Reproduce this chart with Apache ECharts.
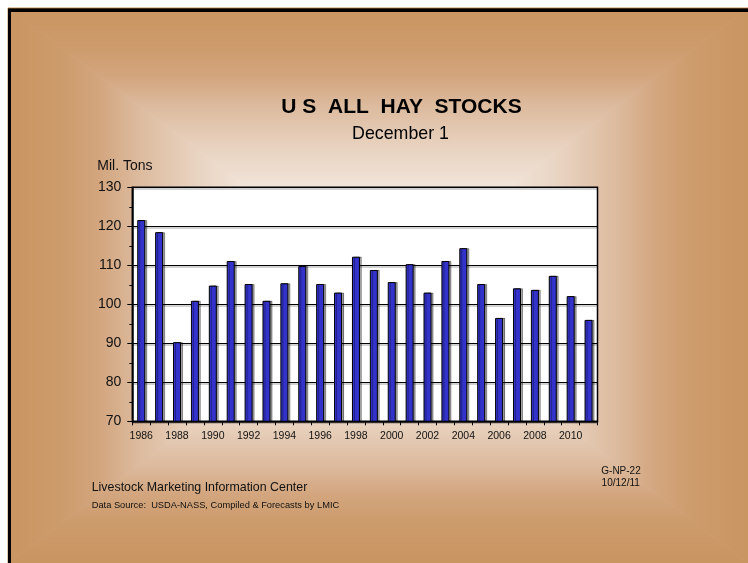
<!DOCTYPE html>
<html>
<head>
<meta charset="utf-8">
<title>U S All Hay Stocks</title>
<script src="https://cdn.jsdelivr.net/npm/echarts@6/dist/echarts.min.js"></script>
<style>
  html, body { margin: 0; padding: 0; background: #ffffff; }
  #chart { width: 748px; height: 563px; }
</style>
</head>
<body>
<div id="chart"></div>
<script>
// December 1 hay stocks, million tons
const years = ['1986', '1987', '1988', '1989', '1990', '1991', '1992', '1993', '1994',
  '1995', '1996', '1997', '1998', '1999', '2000', '2001', '2002', '2003', '2004',
  '2005', '2006', '2007', '2008', '2009', '2010', '2011'];
const stocks = [121.6, 118.5, 90.3, 100.9, 104.8, 111.1, 105.2, 100.9, 105.4,
  109.8, 105.2, 103.0, 112.2, 108.8, 105.7, 110.3, 103.0, 111.1, 114.4,
  105.2, 96.5, 104.1, 103.7, 107.3, 102.1, 96.0];

const titleText = 'U S  ALL  HAY  STOCKS';
const subtitleText = 'December 1';
const unitText = 'Mil. Tons';
const sourceLines = ['Livestock Marketing Information Center',
  'Data Source:  USDA-NASS, Compiled & Forecasts by LMIC'];
const chartCode = ['G-NP-22', '10/12/11'];

const FONT = '"Liberation Sans", Arial, Helvetica, sans-serif';

// Slide background: rectangular "from centre" gradient built from four triangles
const L = 8, T = 8, R = 748, B = 563;
const CX = 378, CY = 285;
// offsets are measured from the slide edge (0) to the centre (1)
const shade = [
  [0.00, '#c99561'],
  [0.15, '#cd9c6c'],
  [0.25, '#d3a67f'],
  [0.35, '#dcba9d'],
  [0.50, '#e8d2bf'],
  [0.70, '#f4ebe3'],
  [1.00, '#ffffff']
];
function grad(x, y, x2, y2) {
  return {
    type: 'linear', x: x, y: y, x2: x2, y2: y2, global: true,
    colorStops: shade.map(s => ({ offset: s[0], color: s[1] }))
  };
}
function tri(points, g) {
  return { type: 'polygon', z: -100, silent: true,
    shape: { points: points },
    style: { fill: g, stroke: g, lineWidth: 1 } };
}
const background = [
  tri([[L, T], [L, B], [CX, CY]], grad(L, 0, CX, 0)),
  tri([[R, T], [R, B], [CX, CY]], grad(R, 0, CX, 0)),
  tri([[L, T], [R, T], [CX, CY]], grad(0, T, 0, CY)),
  tri([[L, B], [R, B], [CX, CY]], grad(0, B, 0, CY)),
  // slide frame, left and top edges
  { type: 'rect', z: -90, silent: true, shape: { x: 8, y: 8, width: 740, height: 1 }, style: { fill: '#4a3218' } },
  { type: 'rect', z: -90, silent: true, shape: { x: 8, y: 9, width: 740, height: 3 }, style: { fill: '#000' } },
  { type: 'rect', z: -90, silent: true, shape: { x: 8, y: 9, width: 3, height: 554 }, style: { fill: '#000' } }
];

// place text by its baseline (top of the text box sits ~0.82em above it)
function label(text, x, baseline, font, size, align, color) {
  return {
    type: 'text', z: 50, silent: true, x: x, y: baseline - 0.82 * size,
    style: { text: text, fill: color || '#111', font: font + ' ' + size + 'px ' + FONT,
      align: align || 'left', verticalAlign: 'top' }
  };
}
const texts = [
  label(titleText, 401.5, 114.3, 'bold', 21, 'center', '#000'),
  label(subtitleText, 400.5, 139.3, 'normal', 17.8, 'center', '#000'),
  label(unitText, 97.3, 170.7, 'normal', 14),
  label(sourceLines[0], 91.7, 491.7, 'normal', 12.4),
  label(sourceLines[1], 91.7, 509, 'normal', 9.3),
  label(chartCode[0], 621, 474, 'normal', 10, 'center'),
  label(chartCode[1], 620.7, 486.7, 'normal', 10, 'center')
];

const chart = echarts.init(document.getElementById('chart'), null, { renderer: 'canvas' });
chart.setOption({
  animation: false,
  backgroundColor: 'transparent',
  textStyle: { fontFamily: FONT },
  graphic: { elements: background.concat(texts) },
  grid: {
    left: 132.3, top: 187.3, width: 465.2, height: 234,
    show: true, backgroundColor: '#ffffff', borderColor: '#000', borderWidth: 1.5
  },
  xAxis: {
    type: 'category',
    data: years,
    boundaryGap: true,
    axisLine: { show: true, lineStyle: { color: '#000', width: 1.5 } },
    axisTick: { show: true, interval: 0, alignWithLabel: false, length: 4, lineStyle: { color: '#000', width: 1 } },
    axisLabel: { interval: 1, color: '#111', fontSize: 10.5, fontFamily: FONT, margin: 9 },
    splitLine: { show: false }
  },
  yAxis: {
    type: 'value',
    min: 70, max: 130, interval: 10,
    axisLine: { show: true, lineStyle: { color: '#000', width: 1.5 } },
    axisTick: { show: true, length: 5, lineStyle: { color: '#000', width: 1 } },
    minorTick: { show: true, splitNumber: 2, length: 3, lineStyle: { color: '#000', width: 1 } },
    axisLabel: { color: '#111', fontSize: 14, fontFamily: FONT, margin: 11 },
    splitLine: { show: true, lineStyle: { color: '#000', width: 1, shadowColor: 'rgba(0,0,0,0.35)', shadowOffsetY: 1.5, shadowBlur: 0.5 } }
  },
  series: [{
    type: 'bar',
    data: stocks,
    barWidth: 8,
    itemStyle: {
      color: '#3333cc',
      borderColor: '#000',
      borderWidth: 1,
      shadowColor: 'rgba(0,0,0,0.35)',
      shadowOffsetX: 2,
      shadowOffsetY: 0,
      shadowBlur: 0.5
    }
  }]
});
</script>
</body>
</html>
